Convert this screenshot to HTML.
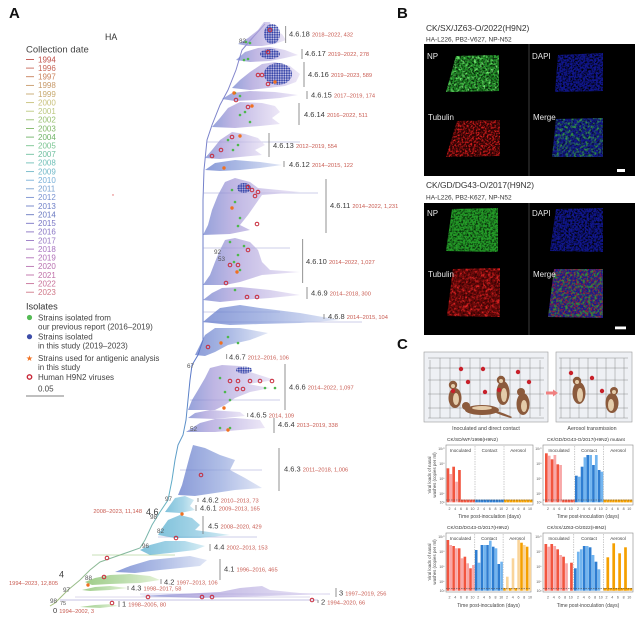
<!DOCTYPE html>
<html><head><meta charset="utf-8"><style>
html,body{margin:0;padding:0;background:#fff;}
svg{display:block;}
</style></head><body>
<svg width="640" height="620" viewBox="0 0 640 620" xmlns="http://www.w3.org/2000/svg" font-family="'Liberation Sans', sans-serif">
<defs>
<linearGradient id="gp" x1="0" x2="1" y1="0" y2="0"><stop offset="0" stop-color="#6a7ccc"/><stop offset="0.3" stop-color="#a498d8"/><stop offset="1" stop-color="#e6def4"/></linearGradient>
<linearGradient id="gb" x1="0" x2="1" y1="0" y2="0"><stop offset="0" stop-color="#5a72c8"/><stop offset="0.5" stop-color="#8ea2dc"/><stop offset="1" stop-color="#d4dcf2"/></linearGradient>
<linearGradient id="gt" x1="0" x2="1" y1="0" y2="0"><stop offset="0" stop-color="#4aa8cc"/><stop offset="0.6" stop-color="#86c6e0"/><stop offset="1" stop-color="#c6e6f0"/></linearGradient>
<linearGradient id="gg" x1="0" x2="1" y1="0" y2="0"><stop offset="0" stop-color="#78b858"/><stop offset="0.5" stop-color="#a0d08c"/><stop offset="1" stop-color="#d8ecc4"/></linearGradient>
<linearGradient id="gtr" gradientUnits="userSpaceOnUse" x1="0" y1="610" x2="0" y2="20"><stop offset="0" stop-color="#a8c078"/><stop offset="0.2" stop-color="#60b0c8"/><stop offset="0.4" stop-color="#5a78c8"/><stop offset="1" stop-color="#8a88cc"/></linearGradient>
<pattern id="bd" width="2.4" height="2.4" patternUnits="userSpaceOnUse"><circle cx="1.2" cy="1.2" r="1.05" fill="#3444a8"/></pattern>
<filter id="spk" x="0" y="0" width="1" height="1">
 <feTurbulence type="fractalNoise" baseFrequency="0.55" numOctaves="2" seed="2" result="n"/>
 <feColorMatrix in="n" type="matrix" values="0 0 0 0 0  0 0 0 0 0  0 0 0 0 0  3.2 0 0 0 -1.35" result="a"/>
 <feComposite in="SourceGraphic" in2="a" operator="in"/>
</filter>
<filter id="spk2" x="0" y="0" width="1" height="1">
 <feTurbulence type="fractalNoise" baseFrequency="0.35" numOctaves="2" seed="9" result="n"/>
 <feColorMatrix in="n" type="matrix" values="0 0 0 0 0  0 0 0 0 0  0 0 0 0 0  3.5 0 0 0 -1.6" result="a"/>
 <feComposite in="SourceGraphic" in2="a" operator="in"/>
</filter>
</defs>

<!-- ============ PANEL A ============ -->
<text x="9" y="18" font-size="15" font-weight="bold" fill="#111">A</text>
<text x="105" y="40" font-size="8.8" fill="#333">HA</text>
<text x="26" y="52.5" font-size="9.5" fill="#444">Collection date</text>
<g font-size="8" stroke-width="0.9">
<line x1="26" x2="34" y1="59.5" y2="59.5" stroke="#c0504a"/><text x="38" y="62.3" fill="#c0504a">1994</text>
<line x1="26" x2="34" y1="68.1" y2="68.1" stroke="#c8685a"/><text x="38" y="70.9" fill="#c8685a">1996</text>
<line x1="26" x2="34" y1="76.7" y2="76.7" stroke="#c8805a"/><text x="38" y="79.5" fill="#c8805a">1997</text>
<line x1="26" x2="34" y1="85.4" y2="85.4" stroke="#c89a6a"/><text x="38" y="88.2" fill="#c89a6a">1998</text>
<line x1="26" x2="34" y1="94" y2="94" stroke="#c8aa70"/><text x="38" y="96.8" fill="#c8aa70">1999</text>
<line x1="26" x2="34" y1="102.6" y2="102.6" stroke="#c8c07a"/><text x="38" y="105.4" fill="#c8c07a">2000</text>
<line x1="26" x2="34" y1="111.2" y2="111.2" stroke="#bcc880"/><text x="38" y="114" fill="#bcc880">2001</text>
<line x1="26" x2="34" y1="119.8" y2="119.8" stroke="#98c070"/><text x="38" y="122.6" fill="#98c070">2002</text>
<line x1="26" x2="34" y1="128.5" y2="128.5" stroke="#80b868"/><text x="38" y="131.3" fill="#80b868">2003</text>
<line x1="26" x2="34" y1="137.1" y2="137.1" stroke="#70b468"/><text x="38" y="139.9" fill="#70b468">2004</text>
<line x1="26" x2="34" y1="145.7" y2="145.7" stroke="#78c490"/><text x="38" y="148.5" fill="#78c490">2005</text>
<line x1="26" x2="34" y1="154.3" y2="154.3" stroke="#70c0a0"/><text x="38" y="157.1" fill="#70c0a0">2007</text>
<line x1="26" x2="34" y1="162.9" y2="162.9" stroke="#70c0b8"/><text x="38" y="165.7" fill="#70c0b8">2008</text>
<line x1="26" x2="34" y1="171.6" y2="171.6" stroke="#70b8c8"/><text x="38" y="174.4" fill="#70b8c8">2009</text>
<line x1="26" x2="34" y1="180.2" y2="180.2" stroke="#78b0d8"/><text x="38" y="183" fill="#78b0d8">2010</text>
<line x1="26" x2="34" y1="188.8" y2="188.8" stroke="#78a0d0"/><text x="38" y="191.6" fill="#78a0d0">2011</text>
<line x1="26" x2="34" y1="197.4" y2="197.4" stroke="#7890d0"/><text x="38" y="200.2" fill="#7890d0">2012</text>
<line x1="26" x2="34" y1="206" y2="206" stroke="#7080c8"/><text x="38" y="208.8" fill="#7080c8">2013</text>
<line x1="26" x2="34" y1="214.7" y2="214.7" stroke="#6878c0"/><text x="38" y="217.5" fill="#6878c0">2014</text>
<line x1="26" x2="34" y1="223.3" y2="223.3" stroke="#7874c4"/><text x="38" y="226.1" fill="#7874c4">2015</text>
<line x1="26" x2="34" y1="231.9" y2="231.9" stroke="#8874c4"/><text x="38" y="234.7" fill="#8874c4">2016</text>
<line x1="26" x2="34" y1="240.5" y2="240.5" stroke="#9878c4"/><text x="38" y="243.3" fill="#9878c4">2017</text>
<line x1="26" x2="34" y1="249.1" y2="249.1" stroke="#a874c0"/><text x="38" y="251.9" fill="#a874c0">2018</text>
<line x1="26" x2="34" y1="257.8" y2="257.8" stroke="#b070b8"/><text x="38" y="260.6" fill="#b070b8">2019</text>
<line x1="26" x2="34" y1="266.4" y2="266.4" stroke="#b870b0"/><text x="38" y="269.2" fill="#b870b0">2020</text>
<line x1="26" x2="34" y1="275" y2="275" stroke="#c070a8"/><text x="38" y="277.8" fill="#c070a8">2021</text>
<line x1="26" x2="34" y1="283.6" y2="283.6" stroke="#c87098"/><text x="38" y="286.4" fill="#c87098">2022</text>
<line x1="26" x2="34" y1="292.2" y2="292.2" stroke="#d07888"/><text x="38" y="295" fill="#d07888">2023</text>
</g>
<text x="26" y="309.5" font-size="9.2" fill="#333">Isolates</text>
<g font-size="8" fill="#444">
<circle cx="29.5" cy="317.5" r="2.6" fill="#55bb55"/>
<text x="38" y="320.5">Strains isolated from</text>
<text x="38" y="329.5">our previous report (2016–2019)</text>
<circle cx="29.5" cy="336.7" r="2.6" fill="#3d4da8"/>
<text x="38" y="339.5">Strains isolated</text>
<text x="38" y="348.5">in this study (2019–2023)</text>
<text x="29.5" y="361" font-size="8" fill="#f07020" text-anchor="middle">★</text>
<text x="38" y="360.8">Strains used for antigenic analysis</text>
<text x="38" y="369.8">in this study</text>
<circle cx="29.5" cy="377" r="2.2" fill="none" stroke="#c82838" stroke-width="1.4"/>
<text x="38" y="379.8">Human H9N2 viruses</text>
<text x="38" y="391.5">0.05</text>
</g>
<line x1="26" x2="64" y1="396" y2="396" stroke="#555" stroke-width="0.8"/>
<circle cx="113" cy="195" r="0.7" fill="#e06060"/>

<!-- tree trunk -->
<polyline fill="none" stroke="url(#gtr)" stroke-width="1" points="50,606 55,603 60,598 68,590 80,580 90,570 100,562 120,555 140,548 145,540 152,525 160,512 168,500 172,480 175,460 178,445 183,435 186,420 188,400 190,380 192,365 198,355 203,340 203,300 203,250 203,200 204,170 207,140 212,125 220,105 228,90 236,70 242,50 255,35 265,24"/>
<g stroke="#9a9ed2" stroke-width="0.5" fill="none">
<line x1="203" x2="318" y1="193" y2="193"/>
<line x1="203" x2="362" y1="322" y2="322"/>
<line x1="158" x2="257" y1="537" y2="537"/>
<line x1="92" x2="175" y1="555" y2="555" stroke="#90c070"/>
<line x1="60" x2="318" y1="600" y2="600" stroke="#8a86c8"/>
<line x1="75" x2="310" y1="597" y2="597" stroke="#b8b0d8"/>
<line x1="140" x2="330" y1="594" y2="594" stroke="#a8a0d8"/>
<line x1="207" x2="300" y1="142" y2="142"/>
<line x1="203" x2="290" y1="248" y2="248"/>
<line x1="203" x2="280" y1="312" y2="312"/>
<line x1="190" x2="280" y1="400" y2="400"/>
<line x1="180" x2="262" y1="470" y2="470"/>
</g>

<!-- clade fans -->
<g opacity="0.7">
<polygon fill="url(#gp)" points="238,44 248,38 258,30 264,22 270,22 272,30 282,34 286,40 275,44 262,46 248,46"/>
<polygon fill="url(#gp)" points="236,60 245,52 258,48 270,47 285,50 298,55 285,58 270,61 250,62"/>
<polygon fill="url(#gp)" points="232,88 240,80 250,72 262,64 275,62 290,66 300,74 296,82 285,86 268,88 250,90"/>
<polygon fill="url(#gp)" points="222,99 232,93 250,91 275,92 298,95 280,98 255,100 235,101"/>
<polygon fill="url(#gp)" points="212,127 220,118 228,108 240,102 262,103 275,106 280,112 272,118 280,124 260,126 235,128"/>
<polygon fill="url(#gp)" points="205,158 212,150 220,140 232,132 245,134 258,138 265,145 255,150 262,155 240,157 220,159"/>
<polygon fill="url(#gb)" points="205,170 215,163 235,160 260,162 282,165 260,168 240,170 220,171"/>
<polygon fill="url(#gp)" points="203,235 208,225 212,210 218,195 225,182 235,178 250,182 258,188 300,192 262,195 255,205 248,215 240,225 250,230 230,234"/>
<polygon fill="url(#gp)" points="203,285 210,275 215,262 220,250 225,240 235,238 250,242 258,250 262,262 270,270 300,272 262,275 240,282 225,285"/>
<polygon fill="url(#gp)" points="203,300 212,293 222,288 240,287 270,290 300,295 270,298 240,300 220,302"/>
<polygon fill="url(#gb)" points="203,322 210,316 220,308 240,305 260,308 300,313 340,320 300,323 260,324 230,325"/>
<polygon fill="url(#gb)" points="195,355 200,345 205,335 215,328 240,328 268,333 250,340 228,345 215,352 205,356"/>
<polygon fill="url(#gp)" points="188,410 192,400 198,390 205,378 210,368 222,365 240,366 250,372 275,380 248,384 270,388 250,392 235,398 225,405 215,410"/>
<polygon fill="url(#gp)" points="188,418 195,413 210,410 240,412 245,416 215,419"/>
<polygon fill="url(#gp)" points="186,432 192,428 200,423 215,419 235,418 260,420 265,428 240,430 215,432"/>
<polygon fill="url(#gb)" points="178,495 182,485 186,470 190,455 193,445 205,448 220,455 235,460 230,470 245,478 262,488 235,490 215,493 195,496"/>
<polygon fill="url(#gt)" points="165,512 170,505 175,498 185,496 194,500 190,506 195,510 180,513"/>
<polygon fill="url(#gt)" points="158,535 163,527 168,520 180,515 192,518 200,525 195,530 230,535 200,538 175,538"/>
<polygon fill="url(#gt)" points="140,550 150,545 165,541 185,541 205,546 195,550 170,553 150,555"/>
<polygon fill="url(#gb)" points="115,572 130,566 150,560 170,558 190,556 207,560 200,566 180,568 160,570 135,573"/>
<polygon fill="url(#gg)" points="85,582 95,578 110,575 130,574 150,576 160,580 140,583 110,584 92,585"/>
<polygon fill="url(#gg)" points="82,590 95,587 110,586 128,588 110,590 90,591"/>
<polygon fill="url(#gp)" points="140,596 180,594 220,592 240,588 262,586 270,590 300,593 330,594 270,596 200,598"/>
<polygon fill="url(#gg)" points="80,607 95,605 112,604 118,606 100,608"/>
</g>
<!-- blue dot clusters -->
<g fill="url(#bd)">
<ellipse cx="272" cy="34" rx="8" ry="10"/>
<ellipse cx="270" cy="54" rx="10" ry="5"/>
<ellipse cx="278" cy="74" rx="14" ry="11"/>
<ellipse cx="244" cy="188" rx="7" ry="5"/>
<ellipse cx="244" cy="370" rx="8" ry="3.5"/>
</g>
<!-- green dots -->
<g fill="#4cb84c">
<circle cx="246" cy="42" r="1.3"/><circle cx="250" cy="43" r="1.3"/><circle cx="244" cy="60" r="1.3"/><circle cx="248" cy="59" r="1.3"/>
<circle cx="235" cy="93" r="1.3"/><circle cx="240" cy="96" r="1.3"/><circle cx="240" cy="115" r="1.3"/><circle cx="250" cy="122" r="1.3"/><circle cx="245" cy="112" r="1.3"/>
<circle cx="228" cy="140" r="1.3"/><circle cx="238" cy="145" r="1.3"/><circle cx="233" cy="150" r="1.3"/>
<circle cx="232" cy="190" r="1.3"/><circle cx="235" cy="202" r="1.3"/><circle cx="240" cy="218" r="1.3"/><circle cx="238" cy="226" r="1.3"/>
<circle cx="230" cy="242" r="1.3"/><circle cx="238" cy="255" r="1.3"/><circle cx="240" cy="270" r="1.3"/><circle cx="234" cy="262" r="1.3"/><circle cx="244" cy="246" r="1.3"/>
<circle cx="235" cy="290" r="1.3"/><circle cx="238" cy="343" r="1.3"/><circle cx="228" cy="337" r="1.3"/>
<circle cx="220" cy="378" r="1.3"/><circle cx="225" cy="392" r="1.3"/><circle cx="265" cy="388" r="1.3"/><circle cx="275" cy="388" r="1.3"/><circle cx="230" cy="400" r="1.3"/>
<circle cx="220" cy="428" r="1.3"/><circle cx="230" cy="428" r="1.3"/>
</g>
<!-- red circles -->
<g fill="none" stroke="#c82838" stroke-width="1">
<circle cx="270" cy="30" r="1.8"/><circle cx="268" cy="52" r="1.8"/><circle cx="258" cy="75" r="1.8"/><circle cx="262" cy="75" r="1.8"/><circle cx="268" cy="84" r="1.8"/>
<circle cx="236" cy="100" r="1.8"/><circle cx="248" cy="107" r="1.8"/><circle cx="232" cy="137" r="1.8"/><circle cx="221" cy="150" r="1.8"/><circle cx="212" cy="156" r="1.8"/>
<circle cx="248" cy="187" r="1.8"/><circle cx="252" cy="190" r="1.8"/><circle cx="258" cy="192" r="1.8"/><circle cx="255" cy="196" r="1.8"/><circle cx="257" cy="224" r="1.8"/>
<circle cx="248" cy="250" r="1.8"/><circle cx="230" cy="265" r="1.8"/><circle cx="238" cy="265" r="1.8"/><circle cx="226" cy="283" r="1.8"/>
<circle cx="247" cy="297" r="1.8"/><circle cx="257" cy="297" r="1.8"/><circle cx="208" cy="347" r="1.8"/>
<circle cx="230" cy="381" r="1.8"/><circle cx="238" cy="381" r="1.8"/><circle cx="250" cy="381" r="1.8"/><circle cx="260" cy="381" r="1.8"/><circle cx="272" cy="381" r="1.8"/><circle cx="237" cy="389" r="1.8"/><circle cx="243" cy="389" r="1.8"/>
<circle cx="201" cy="475" r="1.8"/><circle cx="176" cy="538" r="1.8"/><circle cx="107" cy="558" r="1.8"/><circle cx="104" cy="577" r="1.8"/>
<circle cx="148" cy="597" r="1.8"/><circle cx="202" cy="597" r="1.8"/><circle cx="212" cy="597" r="1.8"/><circle cx="312" cy="600" r="1.8"/><circle cx="112" cy="603" r="1.8"/>
</g>
<!-- orange -->
<g fill="#f07020">
<circle cx="275" cy="82" r="1.7"/><circle cx="234" cy="93" r="1.7"/><circle cx="252" cy="106" r="1.7"/><circle cx="240" cy="136" r="1.7"/><circle cx="224" cy="168" r="1.7"/>
<circle cx="232" cy="208" r="1.7"/><circle cx="237" cy="272" r="1.7"/><circle cx="221" cy="343" r="1.7"/><circle cx="224" cy="408" r="1.7"/><circle cx="228" cy="430" r="1.7"/>
<circle cx="182" cy="514" r="1.7"/><circle cx="88" cy="585" r="1.7"/>
</g>

<!-- clade bars -->
<g stroke="#777" stroke-width="0.8">
<line x1="285.7" x2="285.7" y1="26" y2="43"/><line x1="302" x2="302" y1="49" y2="59"/><line x1="304" x2="304" y1="62" y2="87"/>
<line x1="307" x2="307" y1="91" y2="99"/><line x1="299" x2="299" y1="103" y2="125"/><line x1="269" x2="269" y1="133" y2="157"/>
<line x1="284" x2="284" y1="161" y2="167"/><line x1="326" x2="326" y1="179" y2="233"/><line x1="302.7" x2="302.7" y1="239" y2="283"/>
<line x1="307" x2="307" y1="287" y2="299"/><line x1="324" x2="324" y1="314" y2="319"/><line x1="226.7" x2="226.7" y1="354" y2="359"/>
<line x1="285" x2="285" y1="364" y2="410"/><line x1="247.7" x2="247.7" y1="413" y2="417"/><line x1="274" x2="274" y1="418" y2="433"/>
<line x1="279" x2="279" y1="448" y2="491"/><line x1="198" x2="198" y1="498" y2="502"/><line x1="196" x2="196" y1="505" y2="511"/>
<line x1="203" x2="203" y1="516" y2="534"/><line x1="210" x2="210" y1="544" y2="551"/><line x1="220" x2="220" y1="559" y2="580"/>
<line x1="161" x2="161" y1="579" y2="584"/><line x1="128" x2="128" y1="586" y2="590"/><line x1="119" x2="119" y1="601" y2="607"/>
<line x1="336" x2="336" y1="588" y2="597"/><line x1="318" x2="318" y1="600" y2="603"/>
</g>
<!-- clade labels -->
<g font-size="7.5" fill="#3a3a3a">
<text x="289" y="36.7">4.6.18 <tspan font-size="5.7" fill="#c85a50">2018–2022, 432</tspan></text>
<text x="305" y="56.2">4.6.17 <tspan font-size="5.7" fill="#c85a50">2019–2022, 278</tspan></text>
<text x="308" y="77.2">4.6.16 <tspan font-size="5.7" fill="#c85a50">2019–2023, 589</tspan></text>
<text x="311" y="97.7">4.6.15 <tspan font-size="5.7" fill="#c85a50">2017–2019, 174</tspan></text>
<text x="304" y="117.2">4.6.14 <tspan font-size="5.7" fill="#c85a50">2016–2022, 511</tspan></text>
<text x="273" y="148.2">4.6.13 <tspan font-size="5.7" fill="#c85a50">2012–2019, 554</tspan></text>
<text x="289" y="167.2">4.6.12 <tspan font-size="5.7" fill="#c85a50">2014–2015, 122</tspan></text>
<text x="330" y="208.2">4.6.11 <tspan font-size="5.7" fill="#c85a50">2014–2022, 1,231</tspan></text>
<text x="306" y="264.2">4.6.10 <tspan font-size="5.7" fill="#c85a50">2014–2022, 1,027</tspan></text>
<text x="311" y="295.7">4.6.9 <tspan font-size="5.7" fill="#c85a50">2014–2018, 300</tspan></text>
<text x="328" y="319.2">4.6.8 <tspan font-size="5.7" fill="#c85a50">2014–2015, 104</tspan></text>
<text x="229" y="359.7">4.6.7 <tspan font-size="5.7" fill="#c85a50">2012–2016, 106</tspan></text>
<text x="289" y="389.7">4.6.6 <tspan font-size="5.7" fill="#c85a50">2014–2022, 1,097</tspan></text>
<text x="250" y="417.7">4.6.5 <tspan font-size="5.7" fill="#c85a50">2014, 109</tspan></text>
<text x="278" y="427.2">4.6.4 <tspan font-size="5.7" fill="#c85a50">2013–2019, 338</tspan></text>
<text x="284" y="471.7">4.6.3 <tspan font-size="5.7" fill="#c85a50">2011–2018, 1,006</tspan></text>
<text x="202" y="502.7">4.6.2 <tspan font-size="5.7" fill="#c85a50">2010–2013, 73</tspan></text>
<text x="200" y="510.7">4.6.1 <tspan font-size="5.7" fill="#c85a50">2009–2013, 165</tspan></text>
<text x="208" y="528.7">4.5 <tspan font-size="5.7" fill="#c85a50">2008–2020, 429</tspan></text>
<text x="214" y="549.7">4.4 <tspan font-size="5.7" fill="#c85a50">2002–2013, 153</tspan></text>
<text x="224" y="571.7">4.1 <tspan font-size="5.7" fill="#c85a50">1996–2016, 465</tspan></text>
<text x="164" y="584.7">4.2 <tspan font-size="5.7" fill="#c85a50">1997–2013, 106</tspan></text>
<text x="131" y="590.7">4.3 <tspan font-size="5.7" fill="#c85a50">1998–2017, 58</tspan></text>
<text x="122" y="606.7">1 <tspan font-size="5.7" fill="#c85a50">1998–2005, 80</tspan></text>
<text x="339" y="595.7">3 <tspan font-size="5.7" fill="#c85a50">1997–2019, 256</tspan></text>
<text x="321" y="604.7">2 <tspan font-size="5.7" fill="#c85a50">1994–2020, 66</tspan></text>
<text x="53" y="613">0 <tspan font-size="5.7" fill="#c85a50">1994–2002, 3</tspan></text>
<text x="146" y="515" font-size="9">4.6</text>
<text x="59" y="577.5" font-size="9">4</text>
</g>
<text x="142" y="513" font-size="5.7" fill="#c85a50" text-anchor="end">2008–2023, 11,148</text>
<text x="9" y="585" font-size="5.7" fill="#c85a50">1994–2023, 12,805</text>
<g font-size="6.3" fill="#555">
<text x="239" y="43">82</text><text x="214" y="254">92</text><text x="218" y="261">53</text><text x="187" y="368">67</text>
<text x="190" y="431">52</text><text x="165" y="501">97</text><text x="150" y="519">98</text><text x="157" y="533">82</text>
<text x="142" y="548">96</text><text x="85" y="580">88</text><text x="63" y="592">97</text><text x="50" y="603">98</text><text x="60" y="605" font-size="5.5">75</text>
</g>

<!-- ============ PANEL B ============ -->
<text x="397" y="18" font-size="15" font-weight="bold" fill="#111">B</text>
<text x="426" y="31" font-size="8.4" fill="#333">CK/SX/JZ63-O/2022(H9N2)</text>
<text x="426" y="41.5" font-size="6.5" fill="#333">HA-L226, PB2-V627, NP-N52</text>
<rect x="424" y="44" width="211" height="132" fill="#000"/>
<line x1="529" x2="529" y1="44" y2="176" stroke="#555" stroke-width="0.7"/>
<g>
<polygon points="456,56 499,55 499,91 446,92" fill="#1e8a24"/>
<polygon points="456,56 499,55 499,91 446,92" fill="#6ee86e" filter="url(#spk2)"/>
<polygon points="456,56 499,55 499,91 446,92" fill="#000" filter="url(#spk)" opacity="0.8"/>
<polygon points="558,55 603,53 603,91 555,92" fill="#10168c"/>
<polygon points="558,55 603,53 603,91 555,92" fill="#000" filter="url(#spk)"/>
<polygon points="457,121 500,120 500,156 446,157" fill="#2a0303"/>
<polygon points="457,121 500,120 500,156 446,157" fill="#d81c1c" filter="url(#spk)"/>
<polygon points="556,119 603,118 603,157 552,157" fill="#14188c"/>
<polygon points="556,119 603,118 603,157 552,157" fill="#000" filter="url(#spk)" opacity="0.6"/>
<polygon points="556,119 603,118 603,157 552,157" fill="#38b038" filter="url(#spk2)" opacity="0.8"/>
</g>
<g font-size="8" fill="#e6e6e6">
<text x="427" y="59">NP</text><text x="532" y="59">DAPI</text><text x="428" y="120">Tubulin</text><text x="533" y="120">Merge</text>
</g>
<rect x="617" y="169" width="8" height="3" fill="#fff"/>

<text x="426" y="188" font-size="8.4" fill="#333">CK/GD/DG43-O/2017(H9N2)</text>
<text x="426" y="199.5" font-size="6.5" fill="#333">HA-L226, PB2-K627, NP-N52</text>
<rect x="424" y="203" width="211" height="132" fill="#000"/>
<line x1="529" x2="529" y1="203" y2="335" stroke="#555" stroke-width="0.7"/>
<g>
<polygon points="452,209 498,208 498,252 446,251" fill="#249c28"/>
<polygon points="452,209 498,208 498,252 446,251" fill="#000" filter="url(#spk)" opacity="0.7"/>
<polygon points="556,209 603,208 603,252 550,251" fill="#10168c"/>
<polygon points="556,209 603,208 603,252 550,251" fill="#000" filter="url(#spk)"/>
<polygon points="453,269 500,268 500,317 447,316" fill="#6a0808"/>
<polygon points="453,269 500,268 500,317 447,316" fill="#e82424" filter="url(#spk2)"/>
<polygon points="453,269 500,268 500,317 447,316" fill="#000" filter="url(#spk)" opacity="0.6"/>
<polygon points="554,269 603,269 603,318 548,317" fill="#161a8c"/>
<polygon points="554,269 603,269 603,318 548,317" fill="#c01c1c" filter="url(#spk)" opacity="0.85"/>
<polygon points="554,269 603,269 603,318 548,317" fill="#2ea02e" filter="url(#spk2)" opacity="0.85"/>
</g>
<g font-size="8" fill="#e6e6e6">
<text x="427" y="216">NP</text><text x="532" y="216">DAPI</text><text x="428" y="277">Tubulin</text><text x="533" y="277">Merge</text>
</g>
<rect x="615" y="326.5" width="11" height="2.8" fill="#fff"/>

<!-- ============ PANEL C ============ -->
<text x="397" y="349" font-size="15" font-weight="bold" fill="#111">C</text>
<!-- cage 1 -->
<rect x="424" y="352" width="124" height="70" fill="#eef0f4" stroke="#9a9a9a" stroke-width="0.6"/>
<g stroke="#555" stroke-width="0.4" opacity="0.8">
<line x1="430" x2="430" y1="360" y2="418"/><line x1="440" x2="440" y1="358" y2="418"/><line x1="450" x2="450" y1="358" y2="418"/><line x1="460" x2="460" y1="358" y2="418"/><line x1="470" x2="470" y1="358" y2="418"/><line x1="480" x2="480" y1="358" y2="418"/><line x1="490" x2="490" y1="358" y2="418"/><line x1="500" x2="500" y1="358" y2="418"/><line x1="510" x2="510" y1="358" y2="418"/><line x1="520" x2="520" y1="358" y2="418"/><line x1="530" x2="530" y1="358" y2="418"/><line x1="540" x2="540" y1="360" y2="416"/>
<line x1="428" x2="544" y1="358" y2="358"/><line x1="428" x2="544" y1="368" y2="368"/><line x1="428" x2="544" y1="380" y2="380"/><line x1="428" x2="544" y1="394" y2="394"/><line x1="428" x2="544" y1="408" y2="408"/><line x1="428" x2="544" y1="418" y2="418"/>
</g>
<!-- cage 2 -->
<rect x="556" y="352" width="76" height="70" fill="#eef0f4" stroke="#9a9a9a" stroke-width="0.6"/>
<g stroke="#555" stroke-width="0.4" opacity="0.8">
<line x1="561" x2="561" y1="358" y2="418"/><line x1="570" x2="570" y1="358" y2="418"/><line x1="579" x2="579" y1="358" y2="418"/><line x1="588" x2="588" y1="358" y2="418"/><line x1="597" x2="597" y1="358" y2="418"/><line x1="606" x2="606" y1="358" y2="418"/><line x1="615" x2="615" y1="358" y2="418"/><line x1="624" x2="624" y1="358" y2="418"/>
<line x1="559" x2="628" y1="358" y2="358"/><line x1="559" x2="628" y1="368" y2="368"/><line x1="559" x2="628" y1="380" y2="380"/><line x1="559" x2="628" y1="394" y2="394"/><line x1="559" x2="628" y1="408" y2="408"/><line x1="559" x2="628" y1="418" y2="418"/>
</g>
<!-- ferrets -->
<g fill="#8b5a3c">
<ellipse cx="455" cy="398" rx="6.5" ry="10"/><circle cx="453" cy="385" r="4.2"/>
<ellipse cx="482" cy="410" rx="17" ry="5"/><circle cx="466" cy="406" r="4"/><path d="M497,411 Q506,414 512,417 L511,418 Q503,416 496,413 Z"/>
<ellipse cx="503" cy="393" rx="6.5" ry="12"/><circle cx="501" cy="380" r="4.2"/>
<ellipse cx="523" cy="404" rx="6.5" ry="11"/><circle cx="521" cy="392" r="4"/>
<ellipse cx="579" cy="393" rx="6.5" ry="11"/><circle cx="577" cy="381" r="4.2"/>
<ellipse cx="612" cy="403" rx="6.5" ry="10"/><circle cx="614" cy="391" r="4"/>
</g>
<g fill="#e4ccaa">
<ellipse cx="456" cy="399" rx="3" ry="6"/><ellipse cx="482" cy="408" rx="10" ry="2"/><ellipse cx="504" cy="395" rx="3" ry="7"/><ellipse cx="524" cy="406" rx="3" ry="6"/><ellipse cx="580" cy="395" rx="3" ry="7"/><ellipse cx="611" cy="405" rx="3" ry="6"/>
<circle cx="453" cy="386" r="2"/><circle cx="501" cy="381" r="2"/><circle cx="577" cy="382" r="2"/><circle cx="614" cy="392" r="2"/>
</g>
<g fill="#c8202a">
<circle cx="461" cy="369" r="2.2"/><circle cx="483" cy="369" r="2.2"/><circle cx="518" cy="372" r="2.2"/><circle cx="468" cy="382" r="2.2"/><circle cx="529" cy="382" r="2.2"/><circle cx="485" cy="392" r="2.2"/><circle cx="453" cy="391" r="2.2"/><circle cx="499" cy="390" r="2.2"/>
<circle cx="571" cy="373" r="2.2"/><circle cx="592" cy="378" r="2.2"/><circle cx="602" cy="391" r="2.2"/>
</g>
<path d="M546,391.5 L553,391.5 L553,389.5 L558,393 L553,396.5 L553,394.5 L546,394.5 Z" fill="#f08080"/>
<text x="486" y="430" font-size="5.3" fill="#444" text-anchor="middle">Inoculated and direct contact</text>
<text x="592" y="430" font-size="5.3" fill="#444" text-anchor="middle">Aerosol transmission</text>

<!-- chart titles -->
<g font-size="4.8" fill="#333">
<text x="447" y="441">CK/SD/WF/1998(H9N2)</text>
<text x="547" y="441">CK/GD/DG43-O/2017(H9N2) mutant</text>
<text x="447" y="529">CK/GD/DG43-O/2017(H9N2)</text>
<text x="547" y="529">CK/SX/JZ63-O/2022(H9N2)</text>
</g>
<!-- y titles -->
<g font-size="4.4" fill="#444" text-anchor="middle">
<text transform="translate(431,475) rotate(-90)">Viral loads of nasal</text>
<text transform="translate(436,475) rotate(-90)">washes (copies per ml)</text>
<text transform="translate(431,562) rotate(-90)">Viral loads of nasal</text>
<text transform="translate(436,562) rotate(-90)">washes (copies per ml)</text>
</g>

<!-- CHART 1 -->
<rect x="446" y="445" width="87" height="60" fill="#fff" stroke="#888" stroke-width="0.6"/>
<g fill="#f2553f"><rect x="446.6" y="468.3" width="2.7" height="34"/><rect x="452.3" y="466.7" width="2.7" height="35.6"/><rect x="458.1" y="470" width="2.7" height="32.3"/></g>
<g fill="#f8a8a8"><rect x="449.5" y="474" width="2.7" height="28.3"/><rect x="455.2" y="481.7" width="2.7" height="20.6"/></g>
<line x1="461" x2="475.3" y1="501" y2="501" stroke="#f2553f" stroke-width="2.7" stroke-dasharray="2.6 0.27"/>
<line x1="475.3" x2="504" y1="501" y2="501" stroke="#2e7dd1" stroke-width="2.7" stroke-dasharray="2.6 0.27"/>
<line x1="504" x2="532.7" y1="501" y2="501" stroke="#f5a000" stroke-width="2.7" stroke-dasharray="2.6 0.27"/>
<g stroke="#999" stroke-width="0.5" stroke-dasharray="1.5 1"><line x1="475" x2="475" y1="446" y2="504"/><line x1="504" x2="504" y1="446" y2="504"/><line x1="446" x2="533" y1="500" y2="500" stroke="#444"/></g>
<g font-size="4.6" fill="#444" text-anchor="middle"><text x="460.5" y="452">Inoculated</text><text x="489.5" y="452">Contact</text><text x="518" y="452">Aerosol</text></g>

<!-- CHART 2 -->
<rect x="543" y="445" width="90" height="60" fill="#fff" stroke="#888" stroke-width="0.6"/>
<g fill="#f2553f"><rect x="545" y="453.3" width="2.7" height="49"/><rect x="550.7" y="459.3" width="2.7" height="43"/><rect x="556.4" y="464.3" width="2.7" height="38"/></g>
<g fill="#f8a8a8"><rect x="547.85" y="455.7" width="2.7" height="46.6"/><rect x="553.55" y="455" width="2.7" height="47.3"/><rect x="559.25" y="465" width="2.7" height="37.3"/></g>
<g fill="#2e7dd1"><rect x="575" y="475.7" width="2.7" height="26.6"/><rect x="580.7" y="466.7" width="2.7" height="35.6"/><rect x="586.4" y="455" width="2.7" height="47.3"/><rect x="592.1" y="465" width="2.7" height="37.3"/><rect x="597.8" y="470" width="2.7" height="32.3"/></g>
<g fill="#72b5f0"><rect x="577.85" y="476.7" width="2.7" height="25.6"/><rect x="583.55" y="457.3" width="2.7" height="45"/><rect x="589.25" y="455" width="2.7" height="47.3"/><rect x="594.95" y="455" width="2.7" height="47.3"/><rect x="600.65" y="471.7" width="2.7" height="30.6"/></g>
<line x1="562.1" x2="574.8" y1="501" y2="501" stroke="#f2553f" stroke-width="2.7" stroke-dasharray="2.6 0.27"/>
<line x1="603.5" x2="632.5" y1="501" y2="501" stroke="#f5a000" stroke-width="2.7" stroke-dasharray="2.6 0.27"/>
<g stroke="#999" stroke-width="0.5" stroke-dasharray="1.5 1"><line x1="574.8" x2="574.8" y1="446" y2="504"/><line x1="603.4" x2="603.4" y1="446" y2="504"/><line x1="543" x2="633" y1="500" y2="500" stroke="#444"/></g>
<g font-size="4.6" fill="#444" text-anchor="middle"><text x="559" y="452">Inoculated</text><text x="589" y="452">Contact</text><text x="618" y="452">Aerosol</text></g>

<!-- CHART 3 -->
<rect x="446" y="533" width="85" height="59" fill="#fff" stroke="#888" stroke-width="0.6"/>
<g fill="#f2553f"><rect x="446.6" y="540" width="2.6" height="50.7"/><rect x="452.3" y="546" width="2.6" height="44.7"/><rect x="457.9" y="548.3" width="2.6" height="42.4"/><rect x="463.6" y="556.7" width="2.6" height="34"/><rect x="469.2" y="568.3" width="2.6" height="22.4"/></g>
<g fill="#f8a8a8"><rect x="449.4" y="545" width="2.6" height="45.7"/><rect x="455.1" y="548.3" width="2.6" height="42.4"/><rect x="460.8" y="558.3" width="2.6" height="32.4"/><rect x="466.4" y="563.3" width="2.6" height="27.4"/><rect x="472.1" y="565" width="2.6" height="25.7"/></g>
<g fill="#2e7dd1"><rect x="474.9" y="550" width="2.6" height="40.7"/><rect x="480.6" y="545" width="2.6" height="45.7"/><rect x="486.2" y="545" width="2.6" height="45.7"/><rect x="491.9" y="546.7" width="2.6" height="44"/><rect x="497.5" y="564" width="2.6" height="26.7"/></g>
<g fill="#72b5f0"><rect x="477.7" y="562.7" width="2.6" height="28"/><rect x="483.4" y="545" width="2.6" height="45.7"/><rect x="489" y="540.7" width="2.6" height="50"/><rect x="494.7" y="548.3" width="2.6" height="42.4"/><rect x="500.3" y="561.7" width="2.6" height="29"/></g>
<g fill="#f5a000"><rect x="503.2" y="588" width="2.6" height="2.7"/><rect x="508.9" y="588" width="2.6" height="2.7"/><rect x="514.5" y="588" width="2.6" height="2.7"/><rect x="520.2" y="542.7" width="2.6" height="48"/><rect x="525.8" y="546.7" width="2.6" height="44"/></g>
<g fill="#f9d49a"><rect x="506" y="576.7" width="2.6" height="14"/><rect x="511.7" y="558.3" width="2.6" height="32.4"/><rect x="517.3" y="540" width="2.6" height="50.7"/><rect x="523" y="545" width="2.6" height="45.7"/><rect x="528.6" y="557.3" width="2.6" height="33.4"/></g>
<g stroke="#999" stroke-width="0.5" stroke-dasharray="1.5 1"><line x1="474.8" x2="474.8" y1="534" y2="591"/><line x1="503.1" x2="503.1" y1="534" y2="591"/><line x1="446" x2="531" y1="588.5" y2="588.5" stroke="#444"/></g>
<g font-size="4.6" fill="#444" text-anchor="middle"><text x="460.5" y="540">Inoculated</text><text x="489" y="540">Contact</text><text x="517" y="540">Aerosol</text></g>

<!-- CHART 4 -->
<rect x="543" y="533" width="90" height="59" fill="#fff" stroke="#888" stroke-width="0.6"/>
<g fill="#f2553f"><rect x="544.5" y="544" width="2.7" height="46.7"/><rect x="550.4" y="544" width="2.7" height="46.7"/><rect x="556.3" y="549.3" width="2.7" height="41.4"/><rect x="562.2" y="556.7" width="2.7" height="34"/><rect x="570.1" y="562.7" width="2.7" height="28"/></g>
<g fill="#f8a8a8"><rect x="547.45" y="546.7" width="2.7" height="44"/><rect x="553.35" y="546" width="2.7" height="44.7"/><rect x="559.25" y="555" width="2.7" height="35.7"/><rect x="565.15" y="563.3" width="2.7" height="27.4"/></g>
<g fill="#2e7dd1"><rect x="574" y="568.3" width="2.7" height="22.4"/><rect x="582.85" y="546" width="2.7" height="44.7"/><rect x="588.75" y="547.3" width="2.7" height="43.4"/><rect x="594.65" y="561.7" width="2.7" height="29"/></g>
<g fill="#72b5f0"><rect x="576.95" y="551.7" width="2.7" height="39"/><rect x="579.9" y="549.3" width="2.7" height="41.4"/><rect x="585.8" y="546" width="2.7" height="44.7"/><rect x="591.7" y="555" width="2.7" height="35.7"/><rect x="597.6" y="569.3" width="2.7" height="21.4"/></g>
<line x1="603.5" x2="632.5" y1="589.3" y2="589.3" stroke="#f5a000" stroke-width="2.7" stroke-dasharray="2.6 0.3"/>
<g fill="#f5a000"><rect x="606.45" y="557.3" width="2.7" height="33.4"/><rect x="612.35" y="543.3" width="2.7" height="47.4"/><rect x="618.25" y="553.3" width="2.7" height="37.4"/><rect x="624.15" y="547.3" width="2.7" height="43.4"/></g>
<g stroke="#999" stroke-width="0.5" stroke-dasharray="1.5 1"><line x1="573.8" x2="573.8" y1="534" y2="591"/><line x1="603.4" x2="603.4" y1="534" y2="591"/><line x1="543" x2="633" y1="588.5" y2="588.5" stroke="#444"/></g>
<g font-size="4.6" fill="#444" text-anchor="middle"><text x="559" y="540">Inoculated</text><text x="589" y="540">Contact</text><text x="618" y="540">Aerosol</text></g>

<!-- y tick labels -->
<g font-size="3.4" fill="#555" text-anchor="end">
<text x="444.5" y="450">10¹⁰</text><text x="444.5" y="465">10⁸</text><text x="444.5" y="480">10⁶</text><text x="444.5" y="495">10⁴</text><text x="444.5" y="503.5">10²</text>
<text x="541.5" y="450">10¹⁰</text><text x="541.5" y="465">10⁸</text><text x="541.5" y="480">10⁶</text><text x="541.5" y="495">10⁴</text><text x="541.5" y="503.5">10²</text>
<text x="444.5" y="538">10¹⁰</text><text x="444.5" y="553">10⁸</text><text x="444.5" y="568">10⁶</text><text x="444.5" y="583">10⁴</text><text x="444.5" y="592">10²</text>
<text x="541.5" y="538">10¹⁰</text><text x="541.5" y="553">10⁸</text><text x="541.5" y="568">10⁶</text><text x="541.5" y="583">10⁴</text><text x="541.5" y="592">10²</text>
</g>
<!-- x tick labels -->
<g font-size="3.6" fill="#555" text-anchor="middle">
<text x="449.5" y="510">2</text><text x="455.3" y="510">4</text><text x="461" y="510">6</text><text x="466.8" y="510">8</text><text x="472.5" y="510">10</text>
<text x="478.2" y="510">2</text><text x="484" y="510">4</text><text x="489.7" y="510">6</text><text x="495.5" y="510">8</text><text x="501.2" y="510">10</text>
<text x="507" y="510">2</text><text x="512.7" y="510">4</text><text x="518.5" y="510">6</text><text x="524.2" y="510">8</text><text x="530" y="510">10</text>
<text x="548" y="510">2</text><text x="553.7" y="510">4</text><text x="559.4" y="510">6</text><text x="565.1" y="510">8</text><text x="570.8" y="510">10</text>
<text x="578" y="510">2</text><text x="583.7" y="510">4</text><text x="589.4" y="510">6</text><text x="595.1" y="510">8</text><text x="600.8" y="510">10</text>
<text x="606.5" y="510">2</text><text x="612.2" y="510">4</text><text x="617.9" y="510">6</text><text x="623.6" y="510">8</text><text x="629.3" y="510">10</text>
<text x="449.5" y="598.5">2</text><text x="455.3" y="598.5">4</text><text x="461" y="598.5">6</text><text x="466.8" y="598.5">8</text><text x="472.5" y="598.5">10</text>
<text x="478.2" y="598.5">2</text><text x="484" y="598.5">4</text><text x="489.7" y="598.5">6</text><text x="495.5" y="598.5">8</text><text x="501.2" y="598.5">10</text>
<text x="507" y="598.5">2</text><text x="512.7" y="598.5">4</text><text x="518.5" y="598.5">6</text><text x="524.2" y="598.5">8</text><text x="530" y="598.5">10</text>
<text x="548" y="598.5">2</text><text x="553.7" y="598.5">4</text><text x="559.4" y="598.5">6</text><text x="565.1" y="598.5">8</text><text x="570.8" y="598.5">10</text>
<text x="578" y="598.5">2</text><text x="583.7" y="598.5">4</text><text x="589.4" y="598.5">6</text><text x="595.1" y="598.5">8</text><text x="600.8" y="598.5">10</text>
<text x="606.5" y="598.5">2</text><text x="612.2" y="598.5">4</text><text x="617.9" y="598.5">6</text><text x="623.6" y="598.5">8</text><text x="629.3" y="598.5">10</text>
</g>
<g font-size="5" fill="#444" text-anchor="middle">
<text x="489.5" y="518">Time post-inoculation (days)</text>
<text x="588" y="518">Time post-inoculation (days)</text>
<text x="488.5" y="607">Time post-inoculation (days)</text>
<text x="588" y="607">Time post-inoculation (days)</text>
</g>
</svg>
</body></html>
